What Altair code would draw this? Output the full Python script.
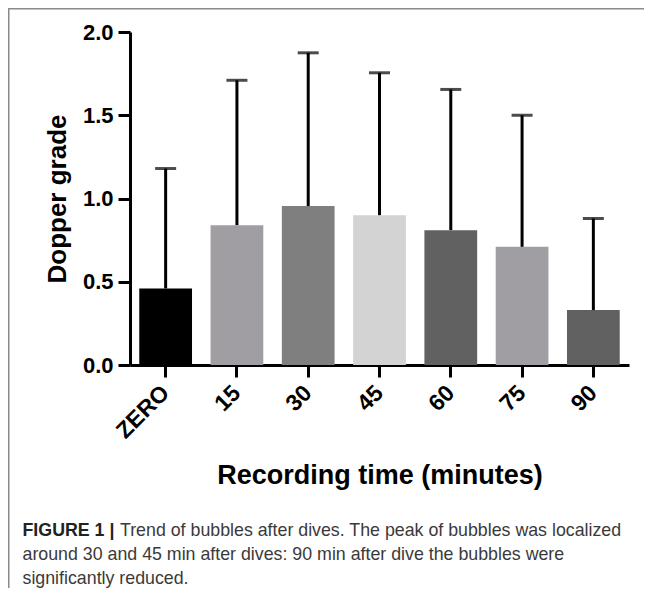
import altair as alt
import pandas as pd

# ---- data ----
categories = ["ZERO", "15", "30", "45", "60", "75", "90"]
means = [0.46, 0.84, 0.955, 0.90, 0.81, 0.71, 0.33]
upper = [1.18, 1.71, 1.875, 1.755, 1.655, 1.50, 0.88]
bar_colors = ["#000000", "#a19ea3", "#7f7f7f", "#d3d3d3", "#616161", "#a19ea3", "#616161"]
y_ticks = [0.0, 0.5, 1.0, 1.5, 2.0]

x_title = "Recording time (minutes)"
y_title = "Dopper grade"
caption_bold = ["FIGURE 1 |"]
caption_line1 = ["Trend of bubbles after dives. The peak of bubbles was localized"]
caption_line2 = ["around 30 and 45 min after dives: 90 min after dive the bubbles were"]
caption_line3 = ["significantly reduced."]

# ---- layout ----
W, H = 499, 333
PL, PT, PR, PB = 122, 24, 15, 223
FONT = "Liberation Sans"

df = pd.DataFrame({"time": categories, "mean": means, "upper": upper})

x_enc = alt.X(
    "time:N",
    sort=categories,
    scale=alt.Scale(paddingInner=0.26, paddingOuter=0.13),
    axis=alt.Axis(
        title=x_title,
        labelAngle=315,
        labelAlign="right",
        labelBaseline="middle",
        labelPadding=12,
        labelFontSize=23,
        labelFontWeight="bold",
        labelFont=FONT,
        labelColor="black",
        labelOverlap=False,
        tickSize=12,
        tickWidth=3,
        tickColor="black",
        domainWidth=3,
        domainColor="black",
        titleFont=FONT,
        titleFontSize=27,
        titleFontWeight="bold",
        titleColor="black",
        titleX=W / 2,
        titleY=118,
        titleAlign="center",
        titleBaseline="alphabetic",
    ),
)


def y_enc(field):
    return alt.Y(
        f"{field}:Q",
        scale=alt.Scale(domain=[0, 2], nice=False, zero=True),
        axis=alt.Axis(
            title=y_title,
            values=y_ticks,
            format=".1f",
            grid=False,
            labelFontSize=22,
            labelFontWeight="bold",
            labelFont=FONT,
            labelColor="black",
            labelPadding=5,
            labelFlush=False,
            labelBound=False,
            tickSize=12,
            tickWidth=3,
            tickColor="black",
            domainWidth=3,
            domainColor="black",
            titleFont=FONT,
            titleFontSize=26,
            titleFontWeight="bold",
            titleColor="black",
            titleAngle=270,
            titleX=-65,
            titleY=H / 2,
            titleAlign="center",
            titleBaseline="alphabetic",
        ),
    )


base = alt.Chart(df)

bars = base.mark_bar().encode(
    x=x_enc,
    y=y_enc("mean"),
    color=alt.Color("time:N", scale=alt.Scale(domain=categories, range=bar_colors), legend=None),
)

err_lines = base.mark_rule(color="black", strokeWidth=3).encode(
    x=x_enc, y=y_enc("mean"), y2="upper:Q"
)

err_caps = base.mark_tick(color="black", thickness=3, size=21).encode(
    x=x_enc, y=y_enc("upper")
)

one = pd.DataFrame({"a": [0]})
border_top = alt.Chart(one).mark_rule(color="#8a8a8a", strokeWidth=1.5).encode(
    x=alt.value(-PL + 0.75), x2=alt.value(W + PR), y=alt.value(-PT + 0.75)
)
border_left = alt.Chart(one).mark_rule(color="#8a8a8a", strokeWidth=1.5).encode(
    x=alt.value(-PL + 0.75), y=alt.value(-PT), y2=alt.value(H + PB)
)


def cap_text(lines, xpos, ypos, bold=False):
    return alt.Chart(pd.DataFrame({"t": lines})).mark_text(
        align="left",
        baseline="alphabetic",
        font=FONT,
        fontSize=17.8,
        fontWeight="bold" if bold else "normal",
        color="#222222" if bold else "#3a3a3a",
    ).encode(x=alt.value(xpos), y=alt.value(ypos), text="t:N")


caption = (
    cap_text(caption_bold, -107.5, 504, bold=True)
    + cap_text(caption_line1, -10, 504)
    + cap_text(caption_line2, -107.5, 528)
    + cap_text(caption_line3, -107.5, 552)
)

chart = (
    alt.layer(bars, err_lines, err_caps, border_top, border_left, caption)
    .properties(
        width=W,
        height=H,
        autosize=alt.AutoSizeParams(type="none"),
        padding={"left": PL, "top": PT, "right": PR, "bottom": PB},
    )
    .configure(background="white")
    .configure_view(stroke="transparent")
)

chart.save("out.html", embed_options={"renderer": "svg", "actions": False})
